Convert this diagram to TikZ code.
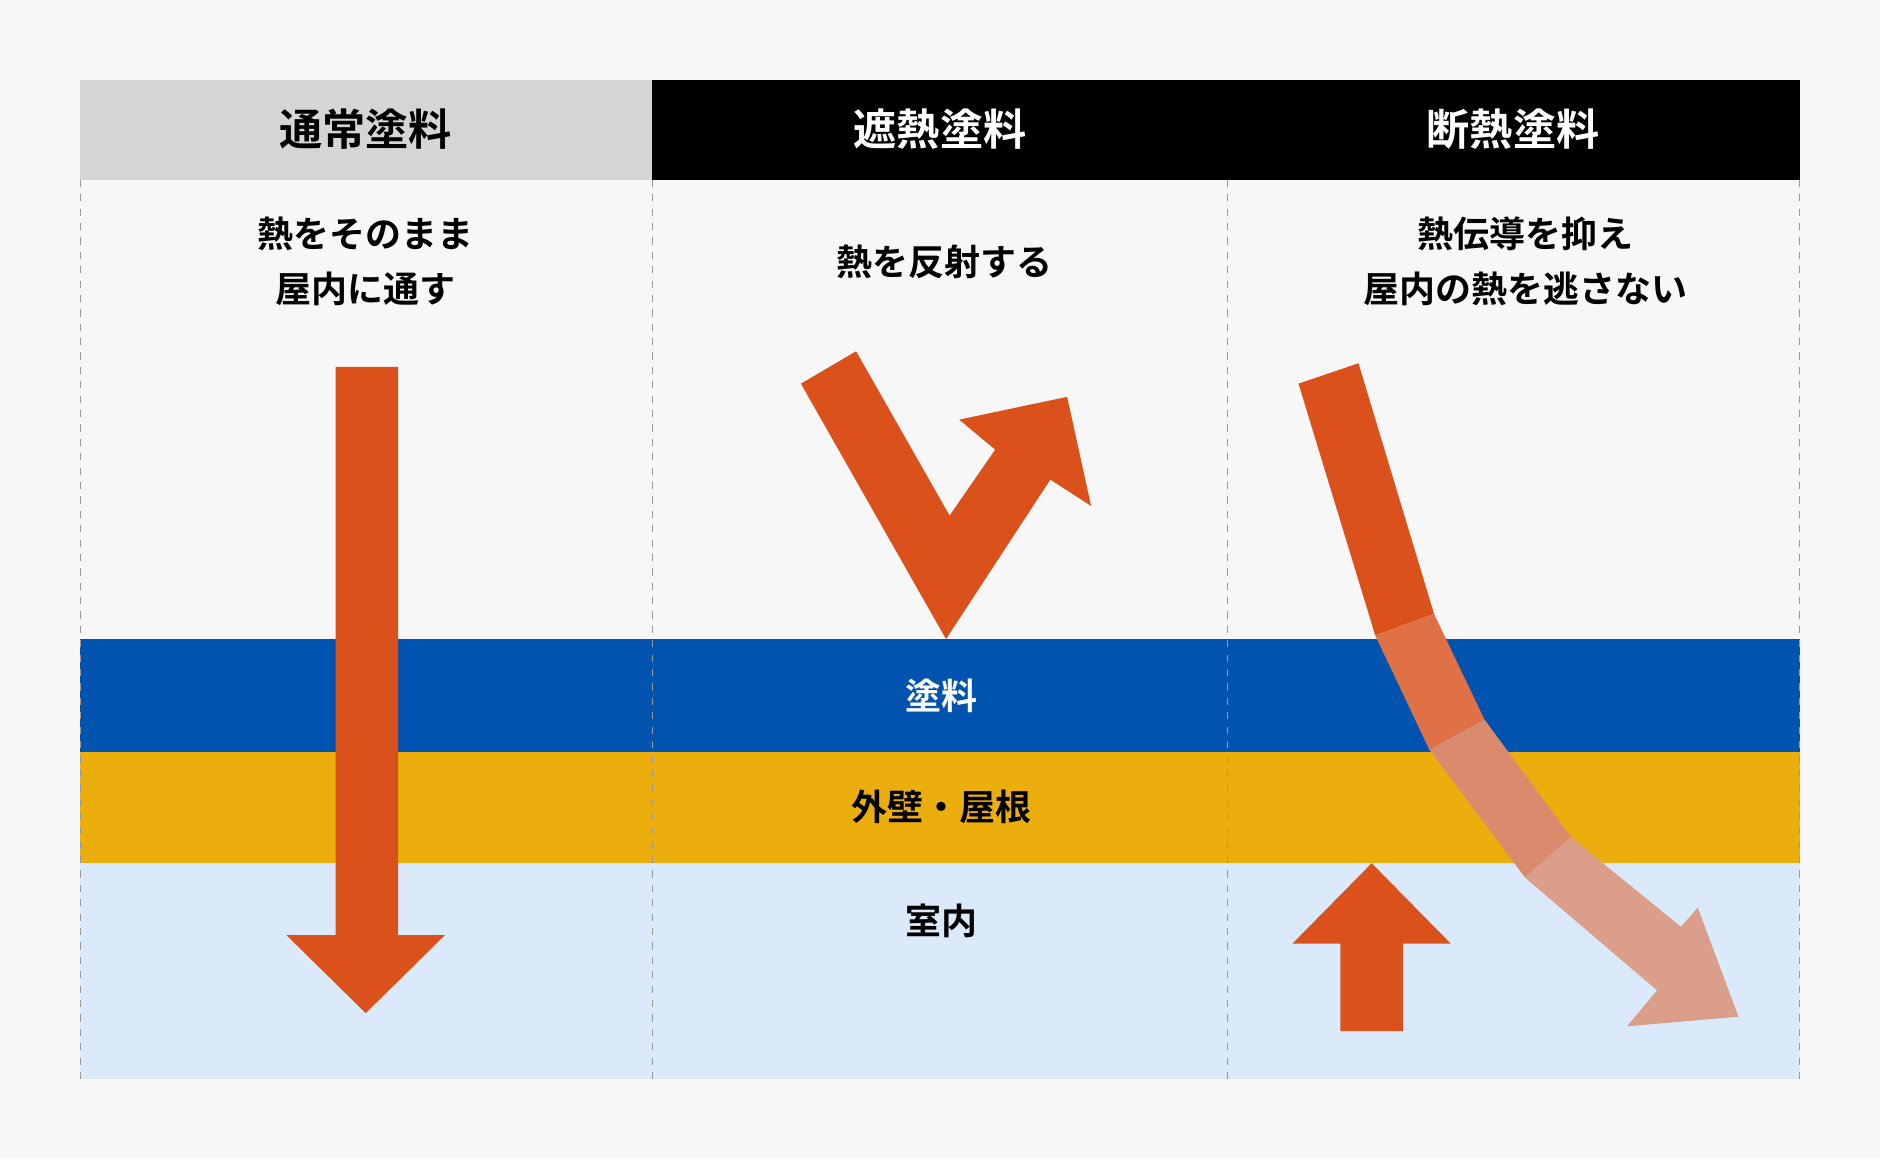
\documentclass[tikz,border=0pt]{standalone}
\usepackage{fontspec}
\setmainfont{Noto Sans CJK JP}[BoldFont={Noto Sans CJK JP Bold}]
\usepackage{xcolor}
\definecolor{bgcol}{HTML}{F7F7F7}
\definecolor{headgray}{HTML}{D5D5D5}
\definecolor{paintblue}{HTML}{0054B0}
\definecolor{wallyellow}{HTML}{ECAE0C}
\definecolor{roomblue}{HTML}{DAEAFA}
\definecolor{heat}{HTML}{DA511B}
\definecolor{heatb}{HTML}{E07045}
\definecolor{heatc}{HTML}{DA8A6D}
\definecolor{heatd}{HTML}{DA9E8B}
\tikzset{
  headtext/.style={font=\bfseries\fontsize{18}{22}\selectfont},
  bodytext/.style={font=\bfseries\fontsize{15}{23}\selectfont,align=center},
  colline/.style={gray!80,dashed,line width=0.6pt}
}
\begin{document}
\begin{tikzpicture}[x=0.5pt,y=-0.5pt]
\fill[bgcol] (0,0) rectangle (1568,967);                       % Hintergrund
\useasboundingbox (0,0) rectangle (1568,967);

\fill[headgray] (67,67) rectangle (544,150);                   % Kopf 1
\fill[black] (544,67) rectangle (1501,150);                    % Kopf 2 und 3
\node[headtext] (h1) at (305,108) {通常塗料};
\node[headtext,white] (h2) at (784,108) {遮熱塗料};
\node[headtext,white] (h3) at (1262,108) {断熱塗料};

\fill[paintblue] (67,533) rectangle (1501,627);                % Schicht Farbe
\fill[wallyellow] (67,627) rectangle (1501,720);               % Schicht Wand
\fill[roomblue] (67,720) rectangle (1501,900);                 % Innenraum

\foreach \x in {67,544,1024,1501}
  \draw[colline] (\x,150) -- (\x,900);                         % Spaltenlinien

\node[bodytext] (t1) at (305,218) {熱をそのまま\\屋内に通す};
\node[bodytext] (t2) at (788,218) {熱を反射する};
\node[bodytext] (t3) at (1272,218) {熱伝導を抑え\\屋内の熱を逃さない};

\node[bodytext,white] (paint) at (785,580) {塗料};
\node[bodytext] (wall) at (785,673) {外壁・屋根};
\node[bodytext] (room) at (785,768) {室内};

% Pfeil durch
\fill[heat] (280,306) -- (332,306) -- (332,780) -- (371,780) -- (305,845) -- (239,780) -- (280,780) -- cycle;
% Pfeil reflektiert
\fill[heat] (668,320) -- (714,293) -- (792,430) -- (830,375) -- (800,350) -- (890,331) -- (910,422) -- (876,400) -- (789,533) -- cycle;
% Pfeil nach oben
\fill[heat] (1118,860) -- (1170,860) -- (1170,787) -- (1210,787) -- (1144,720) -- (1078,787) -- (1118,787) -- cycle;
% Pfeil abgeschwaecht
\fill[heat]  (1083,320) -- (1133,303) -- (1196,512) -- (1147,530) -- cycle;
\fill[heatb] (1147,530) -- (1196,512) -- (1238,600) -- (1192,625) -- cycle;
\fill[heatc] (1192,625) -- (1238,600) -- (1310,698) -- (1272,732) -- cycle;
\fill[heatd] (1272,732) -- (1310,698) -- (1402,773) -- (1416,757) -- (1450,848) -- (1357,856) -- (1382,826) -- cycle;
\end{tikzpicture}
\end{document}
